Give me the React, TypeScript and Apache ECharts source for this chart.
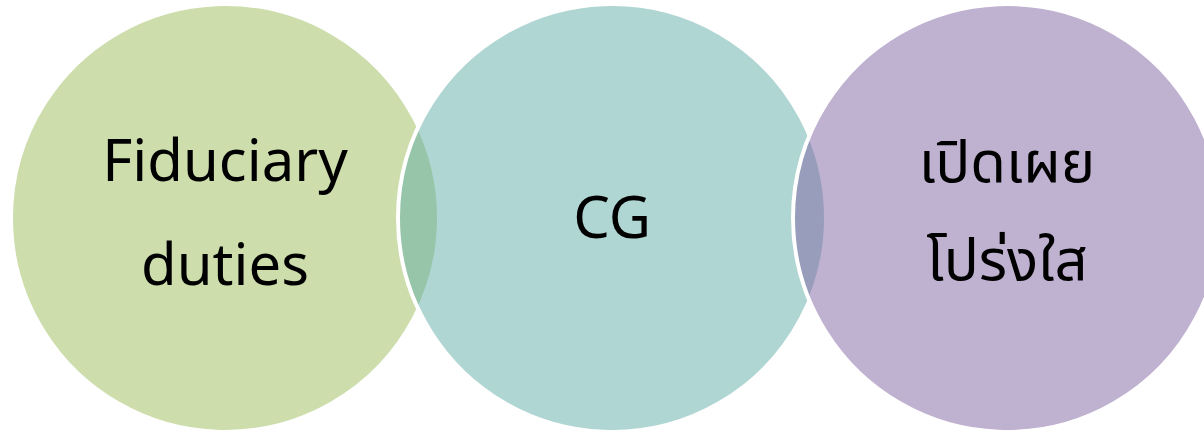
import React, { useEffect, useRef } from "react";
import * as echarts from "echarts";

const circleNames = ["Fiduciary\nduties", "CG", "เปิดเผย\nโปร่งใส"];
const centerX = [225, 612, 1007];
const centerY = [218, 218, 218];
const circleColors = [
  "rgba(155,187,89,0.5)",
  "rgba(95,173,165,0.5)",
  "rgba(128,100,162,0.5)",
];
const labelShift = [
  [0, -8],
  [0, -3],
  [0, -10],
];
const labelLineHeights = [104, 104, 98];

export default function App() {
  const ref = useRef<HTMLDivElement>(null);
  useEffect(() => {
    if (!ref.current) return;
    const chart = echarts.init(ref.current, undefined, { renderer: "svg" });
    chart.setOption({
      animation: false,
      grid: { left: 0, right: 0, top: 0, bottom: 0 },
      xAxis: { type: "value", min: 0, max: 1204, show: false },
      yAxis: { type: "value", min: 0, max: 434, inverse: true, show: false },
      series: [
        {
          type: "scatter",
          silent: true,
          symbol: "circle",
          symbolSize: 428,
          data: circleNames.map((n, i) => ({
            name: n,
            value: [centerX[i], centerY[i]],
            itemStyle: { color: circleColors[i] },
            label: { offset: labelShift[i], lineHeight: labelLineHeights[i] },
          })),
          itemStyle: { borderColor: "#ffffff", borderWidth: 4, opacity: 1 },
          label: {
            show: true,
            position: "inside",
            formatter: (p: any) => p.name,
            color: "#000000",
            fontFamily: "'Noto Sans', 'Noto Sans Thai', 'Open Sans', sans-serif",
            fontSize: 58,
            lineHeight: 104,
          },
        },
      ],
    });
    return () => chart.dispose();
  }, []);
  return (
    <div
      ref={ref}
      style={{ position: "absolute", left: 0, top: 0, width: 1204, height: 434 }}
    />
  );
}
